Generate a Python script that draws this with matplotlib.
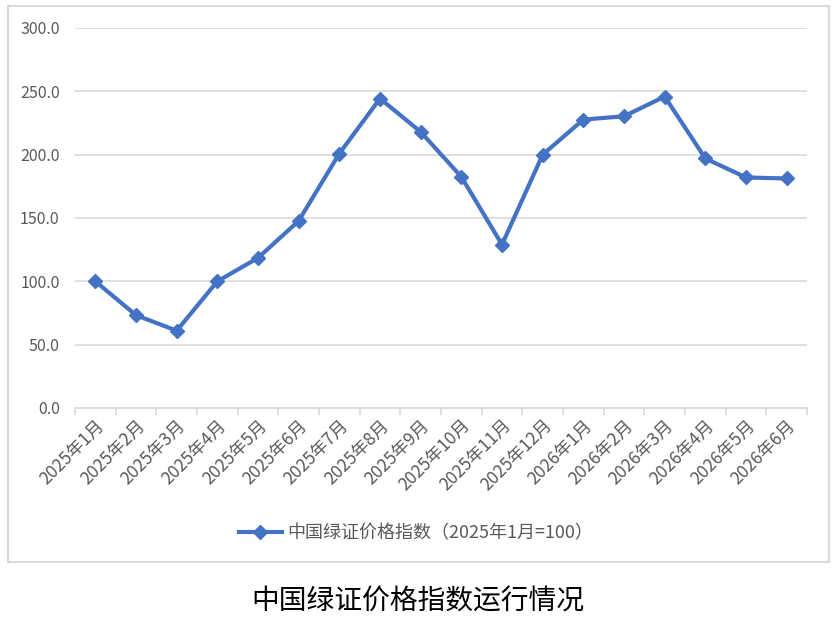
import matplotlib
matplotlib.use('Agg')
import matplotlib.pyplot as plt
from matplotlib.patches import Rectangle

plt.rcParams['font.family'] = ['Noto Sans CJK SC', 'DejaVu Sans']

# chart data
months = ['2025年1月', '2025年2月', '2025年3月', '2025年4月', '2025年5月', '2025年6月',
          '2025年7月', '2025年8月', '2025年9月', '2025年10月', '2025年11月', '2025年12月',
          '2026年1月', '2026年2月', '2026年3月', '2026年4月', '2026年5月', '2026年6月']
index_values = [100.0, 73.3, 61.0, 100.0, 118.5, 147.7, 200.9, 244.3, 218.0,
                182.5, 129.0, 200.0, 227.7, 230.3, 245.9, 197.0, 182.0, 181.2]
y_ticks = [0, 50, 100, 150, 200, 250, 300]
series_name = '中国绿证价格指数（2025年1月=100）'
title = '中国绿证价格指数运行情况'

blue = '#4472C4'
grey_text = '#595959'
grid_col = '#D9D9D9'

W, H = 837, 623
fig = plt.figure(figsize=(W / 100, H / 100), dpi=100)

# outer chart border
fig.patches.append(Rectangle((8 / W, 1 - 562 / H), (829 - 8) / W, (562 - 6) / H,
                             transform=fig.transFigure, fill=False,
                             edgecolor=grid_col, linewidth=1.5))

ax = fig.add_axes([75 / W, 1 - 408 / H, (807 - 75) / W, (408 - 28) / H])
x = list(range(len(months)))
ax.plot(x, index_values, color=blue, linewidth=3.0, marker='D', markersize=7.5,
        label=series_name, zorder=3)

ax.set_xlim(-0.5, len(months) - 0.5)
ax.set_ylim(0, 300)
ax.set_yticks(y_ticks)
ax.set_yticklabels([f'{v:.1f}' for v in y_ticks])
ax.yaxis.grid(True, color=grid_col, linewidth=1.2)
ax.set_axisbelow(True)

# category boundaries carry tick marks, labels sit at the centres
ax.set_xticks([i - 0.5 for i in range(len(months) + 1)])
ax.set_xticklabels([])
ax.set_xticks(x, minor=True)
ax.set_xticklabels(months, minor=True, rotation=45, ha='right',
                   rotation_mode='anchor', fontsize=12.5, color=grey_text)
ax.tick_params(axis='x', which='major', length=5, color=grid_col, width=1.2)
ax.tick_params(axis='x', which='minor', length=0, pad=6)
ax.tick_params(axis='y', length=0, pad=11, labelsize=11.5, labelcolor=grey_text)

for side in ['top', 'right', 'left']:
    ax.spines[side].set_visible(False)
ax.spines['bottom'].set_color(grid_col)
ax.spines['bottom'].set_linewidth(1.2)

fig.legend(loc='center', bbox_to_anchor=(416 / W, 1 - 533 / H), frameon=False,
           fontsize=13, labelcolor=grey_text, handlelength=2.4, handletextpad=0.3)

fig.text(418 / W, 1 - 602 / H, title, ha='center', va='center',
         fontsize=20, color='black')

fig.savefig('out.png', dpi=100)
